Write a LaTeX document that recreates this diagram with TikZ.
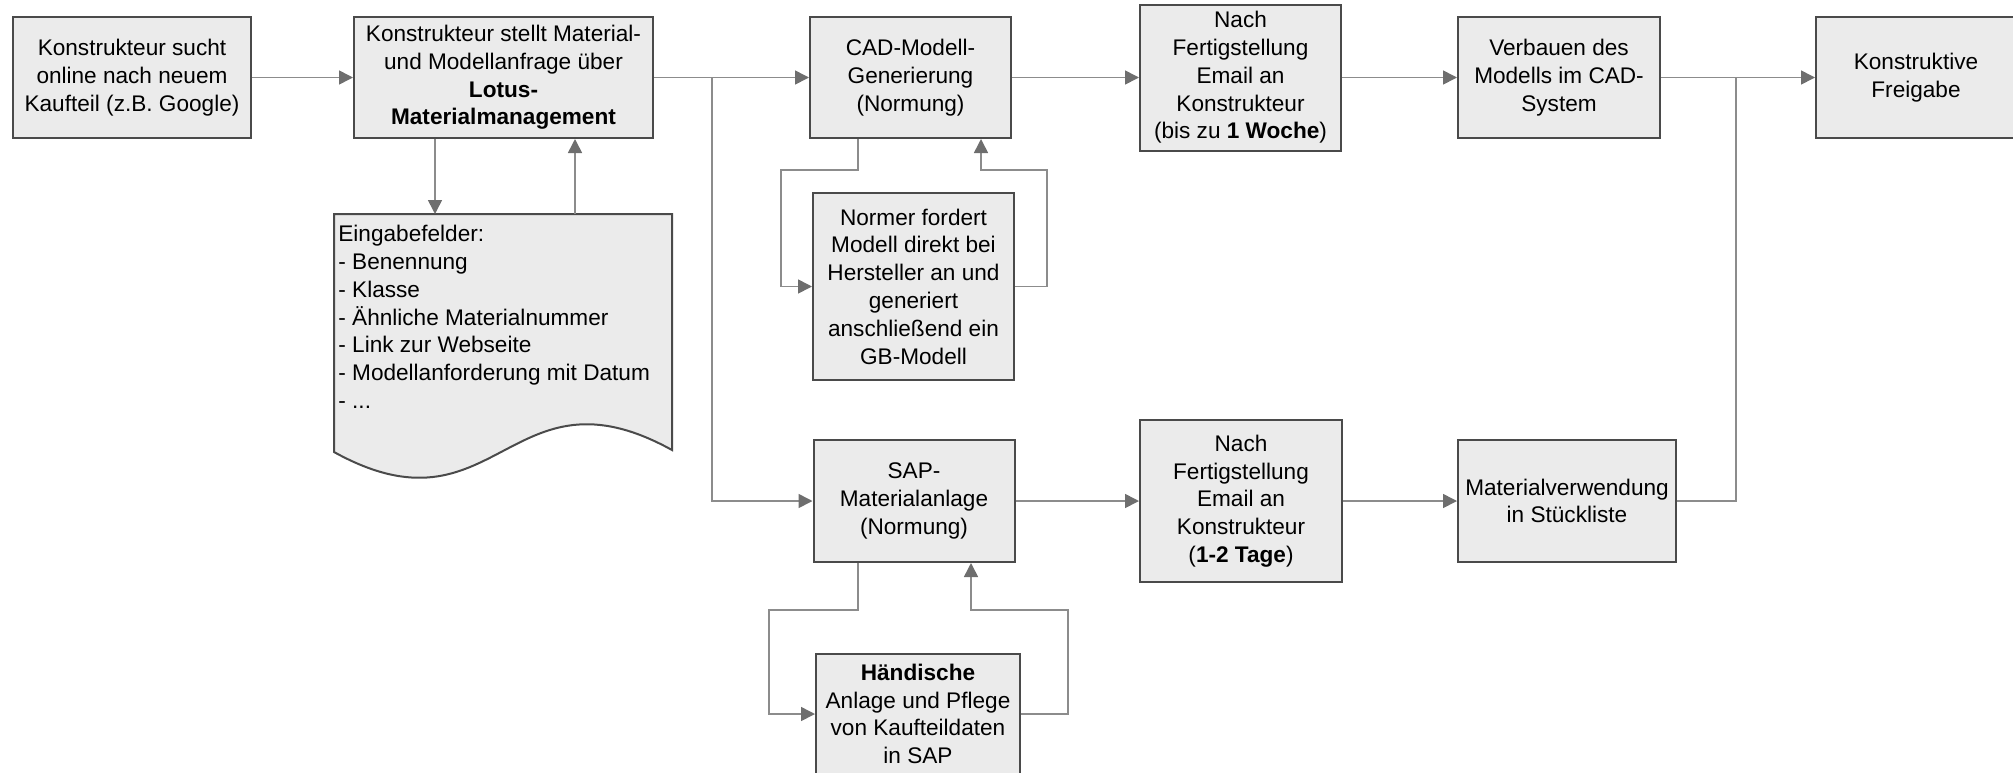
\documentclass[tikz,border=0pt]{standalone}
\usepackage{fontspec}
\setmainfont{Liberation Sans}
\usetikzlibrary{positioning, arrows.meta}
\definecolor{boxfill}{HTML}{EBEBEB}
\definecolor{boxline}{HTML}{4A4A4A}
\definecolor{linegray}{HTML}{8C8C8C}
\definecolor{tipgray}{HTML}{6E6E6E}
\tikzset{
  txt/.style={
      font=\fontsize{11.3pt}{13.9pt}\selectfont
    },
  proc/.style={
      txt,
      rectangle,
      draw=boxline,
      line width=1pt,
      fill=boxfill,
      align=center,
      inner sep=2pt,
      minimum width=100.5pt,
      minimum height=60.5pt
    },
  arr/.style={
      -{Triangle[length=7pt,width=7pt,color=tipgray]},
      draw=linegray,
      line width=0.8pt
    },
  conn/.style={
      draw=linegray,
      line width=0.8pt
    }
}

\begin{document}
\begin{tikzpicture}[x=0.5pt, y=-0.5pt]
  \path[use as bounding box] (0,0) rectangle (2013,772);
  \clip (0,0) rectangle (2013,772);

  \node[proc, minimum width=119pt] (such) at (132,77.5) {Konstrukteur sucht\\online nach neuem\\Kaufteil (z.B. Google)};
  \node[proc, minimum width=149.5pt] (anfrage) at (503.5,77.5) {Konstrukteur stellt Material-\\und Modellanfrage über\\\textbf{Lotus-}\\\textbf{Materialmanagement}};
  \node[proc] (cad) at (910.5,77.5) {CAD-Modell-\\Generierung\\(Normung)};
  \node[proc, minimum height=73pt] (mail1) at (1240.5,77.5) {Nach\\Fertigstellung\\Email an\\Konstrukteur\\(bis zu \textbf{1 Woche})};
  \node[proc, minimum width=101pt] (verbau) at (1559,77.5) {Verbauen des\\Modells im CAD-\\System};
  \node[proc, minimum width=100pt] (freigabe) at (1916,77.5) {Konstruktive\\Freigabe};

  \node[proc, minimum height=93.5pt] (normer) at (913.5,286.5) {Normer fordert\\Modell direkt bei\\Hersteller an und\\generiert\\anschließend ein\\GB-Modell};
  \node[proc, minimum height=61pt] (sap) at (914,501) {SAP-\\Materialanlage\\(Normung)};
  \node[proc, minimum width=101pt, minimum height=81pt] (mail2) at (1241,501) {Nach\\Fertigstellung\\Email an\\Konstrukteur\\(\textbf{1-2 Tage})};
  \node[proc, minimum width=109pt, minimum height=61pt] (verwend) at (1567,501) {Materialverwendung\\in Stückliste};
  \node[proc, minimum width=102pt, minimum height=60pt] (hand) at (918,714) {\textbf{Händische}\\Anlage und Pflege\\von Kaufteildaten\\in SAP};

  \draw[draw=boxline, line width=1pt, fill=boxfill] (334,214) coordinate (docNW) -- (672,214) coordinate (docNE) -- (672,450) .. controls (509,360) and (497,542) .. (334,452) -- cycle;
  \node[txt, anchor=north west, align=left, inner sep=0pt] (felder) at (338,225) {Eingabefelder:\\- Benennung\\- Klasse\\- Ähnliche Materialnummer\\- Link zur Webseite\\- Modellanforderung mit Datum\\- ...};

  \coordinate (split) at (712,77.5);
  \coordinate (join) at (1736,77.5);

  \draw[arr] (such.east) -- (anfrage.west);
  \draw[arr] (anfrage.east) -- (cad.west);
  \draw[arr] (cad.east) -- (mail1.west);
  \draw[arr] (mail1.east) -- (verbau.west);
  \draw[arr] (verbau.east) -- (freigabe.west);
  \draw[arr] (split) |- (sap.west);
  \draw[arr] (sap.east) -- (mail2.west);
  \draw[arr] (mail2.east) -- (verwend.west);
  \draw[conn] (verwend.east) -| (join);

  \draw[arr] ([xshift=-34.25pt]anfrage.south) -- ([xshift=-34.25pt]anfrage.south |- docNW);
  \draw[arr] ([xshift=35.75pt]anfrage.south |- docNW) -- ([xshift=35.75pt]anfrage.south);

  \draw[arr] ([xshift=-26.25pt]cad.south) -- ++(0,31) -| ([xshift=-15.5pt]normer.west) -- (normer.west);
  \draw[arr] (normer.east) -- ++(32,0) |- ([xshift=35.25pt,yshift=-15.5pt]cad.south) -- ([xshift=35.25pt]cad.south);

  \draw[arr] ([xshift=-28pt]sap.south) -- ++(0,47) -| ([xshift=-23pt]hand.west) -- (hand.west);
  \draw[arr] (hand.east) -- ++(47,0) |- ([xshift=28.5pt,yshift=-23.5pt]sap.south) -- ([xshift=28.5pt]sap.south);
\end{tikzpicture}
\end{document}
